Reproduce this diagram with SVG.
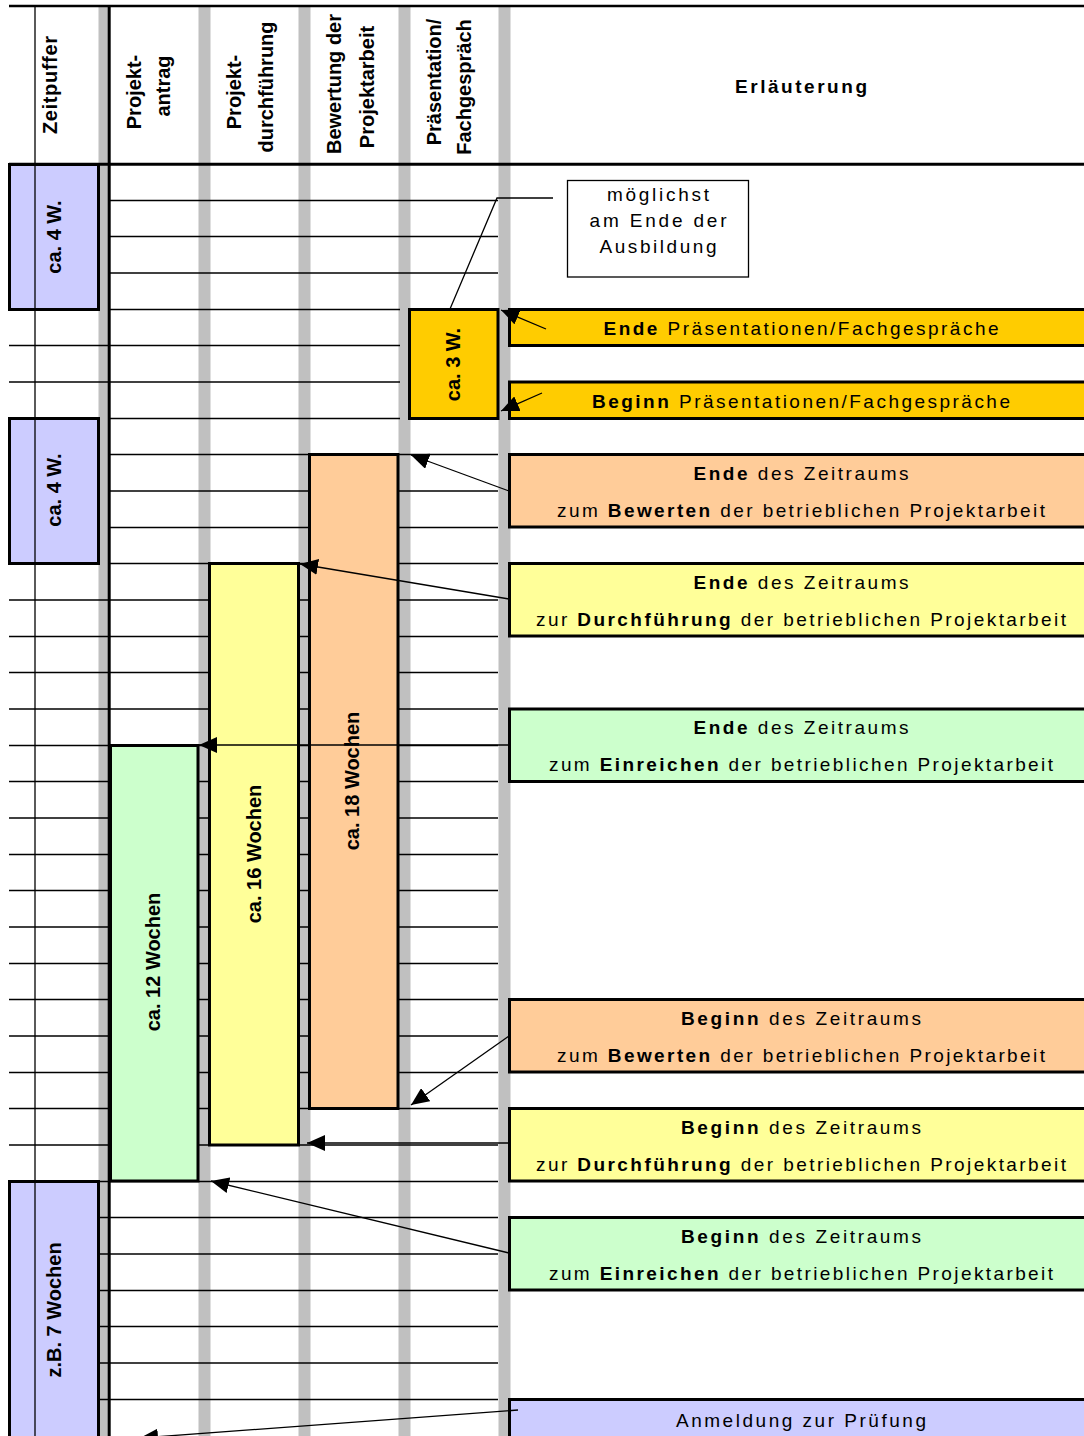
<svg xmlns="http://www.w3.org/2000/svg" width="1084" height="1436" viewBox="0 0 1084 1436">
  <style>
    .bg { fill: #ffffff; }
    .bar { fill: #c0c0c0; }
    .row { stroke: #000; stroke-width: 1.3; fill: none; }
    .frame { stroke: #000; fill: none; }
    .box { stroke: #000; stroke-width: 3; }
    .puffer { fill: #ccccff; }
    .antrag { fill: #ccffcc; }
    .durch { fill: #ffff99; }
    .bewert { fill: #ffcc99; }
    .praes { fill: #ffcc00; }
    .hd, .lbl { font-family: "Liberation Sans", Arial, sans-serif; font-weight: bold; font-size: 20px; text-anchor: middle; fill: #000; }
    .tx { font-family: "Liberation Sans", Arial, sans-serif; font-size: 19px; text-anchor: middle; fill: #000; }
    .b { font-weight: bold; }
    .conn { stroke: #000; stroke-width: 1.3; fill: none; }
  </style>
  <defs>
    <marker id="ah" markerUnits="userSpaceOnUse" markerWidth="18" markerHeight="16" viewBox="0 0 18 16" refX="18" refY="8" orient="auto">
      <path d="M0,0 L18,8 L0,16 Z" fill="#000"/>
    </marker>
  </defs>

  <rect class="bg" x="0" y="0" width="1084" height="1436"/>

  <!-- column separators -->
  <g id="column-bars">
    <rect class="bar" x="98.5" y="7" width="10" height="1429"/>
    <rect class="bar" x="198.5" y="7" width="12" height="1429"/>
    <rect class="bar" x="298.5" y="7" width="12" height="1429"/>
    <rect class="bar" x="398.5" y="7" width="12" height="1429"/>
    <rect class="bar" x="498.5" y="7" width="12" height="1429"/>
  </g>

  <!-- week rows -->
  <g id="week-rows" class="row">
    <line x1="110" y1="200.5" x2="498" y2="200.5"/>
    <line x1="110" y1="236.5" x2="498" y2="236.5"/>
    <line x1="110" y1="273" x2="498" y2="273"/>
    <line x1="110" y1="309.5" x2="400" y2="309.5"/>
    <line x1="9" y1="345.5" x2="400" y2="345.5"/>
    <line x1="9" y1="382" x2="400" y2="382"/>
    <line x1="110" y1="418.5" x2="400" y2="418.5"/>
    <line x1="110" y1="454.5" x2="498" y2="454.5"/>
    <line x1="110" y1="491" x2="498" y2="491"/>
    <line x1="110" y1="527.5" x2="498" y2="527.5"/>
    <line x1="110" y1="563.5" x2="498" y2="563.5"/>
    <line x1="9" y1="600" x2="498" y2="600"/>
    <line x1="9" y1="636.5" x2="498" y2="636.5"/>
    <line x1="9" y1="672.5" x2="498" y2="672.5"/>
    <line x1="9" y1="709" x2="498" y2="709"/>
    <line x1="9" y1="745.5" x2="498" y2="745.5"/>
    <line x1="9" y1="781.5" x2="498" y2="781.5"/>
    <line x1="9" y1="818" x2="498" y2="818"/>
    <line x1="9" y1="854.5" x2="498" y2="854.5"/>
    <line x1="9" y1="890.5" x2="498" y2="890.5"/>
    <line x1="9" y1="927" x2="498" y2="927"/>
    <line x1="9" y1="963.5" x2="498" y2="963.5"/>
    <line x1="9" y1="999.5" x2="498" y2="999.5"/>
    <line x1="9" y1="1036" x2="498" y2="1036"/>
    <line x1="9" y1="1072.5" x2="498" y2="1072.5"/>
    <line x1="9" y1="1108.5" x2="498" y2="1108.5"/>
    <line x1="9" y1="1145" x2="498" y2="1145"/>
    <line x1="99" y1="1181.5" x2="498" y2="1181.5"/>
    <line x1="99" y1="1217.5" x2="498" y2="1217.5"/>
    <line x1="99" y1="1254" x2="498" y2="1254"/>
    <line x1="99" y1="1290.5" x2="498" y2="1290.5"/>
    <line x1="99" y1="1326.5" x2="498" y2="1326.5"/>
    <line x1="99" y1="1363" x2="498" y2="1363"/>
    <line x1="99" y1="1399.5" x2="498" y2="1399.5"/>
  </g>

  <!-- header -->
  <g id="header">
    <line class="frame" x1="9" y1="6" x2="1084" y2="6" stroke-width="2.5"/>
    <line class="frame" x1="9" y1="164.3" x2="1084" y2="164.3" stroke-width="3"/>
    <text class="hd" transform="translate(57,85) rotate(-90)" textLength="98" lengthAdjust="spacing">Zeitpuffer</text>
    <text class="hd" transform="translate(141,92) rotate(-90)">Projekt-</text>
    <text class="hd" transform="translate(170,86) rotate(-90)">antrag</text>
    <text class="hd" transform="translate(241,92) rotate(-90)">Projekt-</text>
    <text class="hd" transform="translate(272.5,87) rotate(-90)">durchführung</text>
    <text class="hd" transform="translate(341,84) rotate(-90)">Bewertung der</text>
    <text class="hd" transform="translate(374,87) rotate(-90)">Projektarbeit</text>
    <text class="hd" transform="translate(441,82) rotate(-90)">Präsentation/</text>
    <text class="hd" transform="translate(471,87) rotate(-90)">Fachgespräch</text>
    <text class="tx b" x="801" y="93" textLength="132" lengthAdjust="spacing">Erläuterung</text>
  </g>

  <!-- buffer periods -->
  <g id="puffer-1">
    <rect class="box puffer" x="9.5" y="164.5" width="89" height="145"/>
    <text class="lbl" transform="translate(60.5,237) rotate(-90)">ca. 4 W.</text>
  </g>
  <g id="puffer-2">
    <rect class="box puffer" x="9.5" y="418.5" width="89" height="145"/>
    <text class="lbl" transform="translate(60.5,490) rotate(-90)">ca. 4 W.</text>
  </g>
  <g id="puffer-3">
    <rect class="box puffer" x="9.5" y="1181.5" width="89" height="280"/>
    <text class="lbl" transform="translate(60.5,1310) rotate(-90)">z.B. 7 Wochen</text>
  </g>

  <!-- phase bars -->
  <g id="phase-antrag">
    <rect class="box antrag" x="110.5" y="745.5" width="87.5" height="435.5"/>
    <text class="lbl" transform="translate(160,962) rotate(-90)">ca. 12 Wochen</text>
  </g>
  <g id="phase-durchfuehrung">
    <rect class="box durch" x="209.5" y="563.5" width="89" height="581.5"/>
    <text class="lbl" transform="translate(260.5,854) rotate(-90)">ca. 16 Wochen</text>
  </g>
  <g id="phase-bewertung">
    <rect class="box bewert" x="309.5" y="454.5" width="88.5" height="654"/>
    <text class="lbl" transform="translate(359,781) rotate(-90)">ca. 18 Wochen</text>
  </g>
  <g id="phase-praesentation">
    <rect class="box praes" x="409.5" y="309.5" width="88.5" height="109"/>
    <text class="lbl" transform="translate(460,364.5) rotate(-90)">ca. 3 W.</text>
  </g>

  <!-- fixed column rules drawn over the bars -->
  <g id="column-rules">
    <line class="frame" x1="35" y1="6" x2="35" y2="1436" stroke-width="1.3"/>
    <line class="frame" x1="109.2" y1="5" x2="109.2" y2="1436" stroke-width="3"/>
  </g>

  <!-- note -->
  <g id="note">
    <rect x="567.5" y="180.5" width="181" height="96.5" fill="#fff" stroke="#000" stroke-width="1.3"/>
    <text class="tx" x="658" y="201" textLength="102" lengthAdjust="spacing">möglichst</text>
    <text class="tx" x="658" y="227" textLength="137" lengthAdjust="spacing">am Ende der</text>
    <text class="tx" x="658" y="253" textLength="117" lengthAdjust="spacing">Ausbildung</text>
  </g>

  <!-- explanations -->
  <g id="ende-praesentation">
    <rect class="box praes" x="509.5" y="309.5" width="600" height="36"/>
    <text class="tx" x="801" y="335" textLength="395" lengthAdjust="spacing"><tspan class="b">Ende</tspan> Präsentationen/Fachgespräche</text>
  </g>
  <g id="beginn-praesentation">
    <rect class="box praes" x="509.5" y="382" width="600" height="36.5"/>
    <text class="tx" x="801" y="407.5" textLength="418" lengthAdjust="spacing"><tspan class="b">Beginn</tspan> Präsentationen/Fachgespräche</text>
  </g>
  <g id="ende-bewertung">
    <rect class="box bewert" x="509.5" y="454.5" width="600" height="72.5"/>
    <text class="tx" x="801" y="480" textLength="215" lengthAdjust="spacing"><tspan class="b">Ende</tspan> des Zeitraums</text>
    <text class="tx" x="801" y="517" textLength="488" lengthAdjust="spacing">zum <tspan class="b">Bewerten</tspan> der betrieblichen Projektarbeit</text>
  </g>
  <g id="ende-durchfuehrung">
    <rect class="box durch" x="509.5" y="563.5" width="600" height="72.5"/>
    <text class="tx" x="801" y="589" textLength="215" lengthAdjust="spacing"><tspan class="b">Ende</tspan> des Zeitraums</text>
    <text class="tx" x="801" y="626" textLength="530" lengthAdjust="spacing">zur <tspan class="b">Durchführung</tspan> der betrieblichen Projektarbeit</text>
  </g>
  <g id="ende-einreichen">
    <rect class="box antrag" x="509.5" y="709" width="600" height="72.5"/>
    <text class="tx" x="801" y="734" textLength="215" lengthAdjust="spacing"><tspan class="b">Ende</tspan> des Zeitraums</text>
    <text class="tx" x="801" y="771" textLength="504" lengthAdjust="spacing">zum <tspan class="b">Einreichen</tspan> der betrieblichen Projektarbeit</text>
  </g>
  <g id="beginn-bewertung">
    <rect class="box bewert" x="509.5" y="999.5" width="600" height="72.5"/>
    <text class="tx" x="801" y="1025" textLength="240" lengthAdjust="spacing"><tspan class="b">Beginn</tspan> des Zeitraums</text>
    <text class="tx" x="801" y="1062" textLength="488" lengthAdjust="spacing">zum <tspan class="b">Bewerten</tspan> der betrieblichen Projektarbeit</text>
  </g>
  <g id="beginn-durchfuehrung">
    <rect class="box durch" x="509.5" y="1108.5" width="600" height="72.5"/>
    <text class="tx" x="801" y="1134" textLength="240" lengthAdjust="spacing"><tspan class="b">Beginn</tspan> des Zeitraums</text>
    <text class="tx" x="801" y="1171" textLength="530" lengthAdjust="spacing">zur <tspan class="b">Durchführung</tspan> der betrieblichen Projektarbeit</text>
  </g>
  <g id="beginn-einreichen">
    <rect class="box antrag" x="509.5" y="1217.5" width="600" height="72.5"/>
    <text class="tx" x="801" y="1243" textLength="240" lengthAdjust="spacing"><tspan class="b">Beginn</tspan> des Zeitraums</text>
    <text class="tx" x="801" y="1280" textLength="504" lengthAdjust="spacing">zum <tspan class="b">Einreichen</tspan> der betrieblichen Projektarbeit</text>
  </g>
  <g id="anmeldung">
    <rect class="box puffer" x="509.5" y="1399.5" width="600" height="60"/>
    <text class="tx" x="801" y="1427" textLength="250" lengthAdjust="spacing">Anmeldung zur Prüfung</text>
  </g>

  <!-- connectors -->
  <g id="connectors" class="conn">
    <polyline points="553,198 497,198 450,309"/>
    <line x1="546" y1="329" x2="501" y2="310" marker-end="url(#ah)"/>
    <line x1="542" y1="393" x2="501" y2="411" marker-end="url(#ah)"/>
    <line x1="509" y1="491" x2="411" y2="455" marker-end="url(#ah)"/>
    <line x1="509" y1="599" x2="300" y2="564" marker-end="url(#ah)"/>
    <line x1="509" y1="745" x2="199" y2="745" marker-end="url(#ah)"/>
    <line x1="509" y1="1036" x2="411" y2="1105" marker-end="url(#ah)"/>
    <line x1="509" y1="1143" x2="307" y2="1143" marker-end="url(#ah)"/>
    <line x1="509" y1="1253" x2="211" y2="1181" marker-end="url(#ah)"/>
    <line x1="518" y1="1410" x2="140" y2="1438" marker-end="url(#ah)"/>
  </g>
</svg>
